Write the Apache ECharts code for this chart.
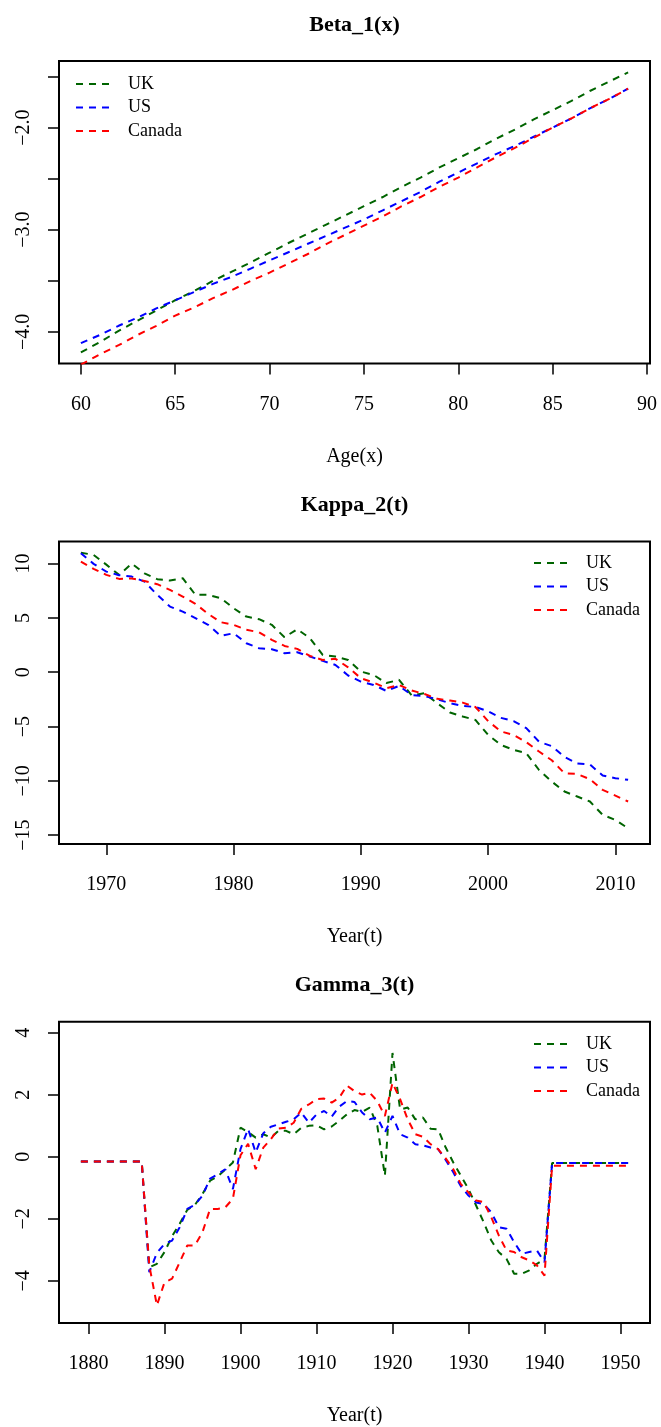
<!DOCTYPE html>
<html>
<head>
<meta charset="utf-8">
<script src="https://cdn.jsdelivr.net/npm/echarts@6/dist/echarts.min.js"></script>
<style>
html,body{margin:0;padding:0;background:#fff;}
#chart{width:661px;height:1427px;}
</style>
</head>
<body>
<div id="chart"></div>
<script>
// ---------- Data ----------
const seriesNames = ['UK', 'US', 'Canada'];
const seriesColors = ['#006400', '#0000FF', '#FF0000'];

// Panel 1: Beta_1(x)
const ages = [60,61,62,63,64,65,66,67,68,69,70,71,72,73,74,75,76,77,78,79,80,81,82,83,84,85,86,87,88,89];
const betaUK = [-4.20,-4.10,-3.99,-3.89,-3.79,-3.69,-3.60,-3.50,-3.41,-3.32,-3.225,-3.13,-3.04,-2.95,-2.86,-2.77,-2.68,-2.58,-2.49,-2.39,-2.30,-2.21,-2.11,-2.02,-1.92,-1.83,-1.74,-1.64,-1.55,-1.46];
const betaUS = [-4.11,-4.03,-3.94,-3.86,-3.77,-3.69,-3.61,-3.53,-3.46,-3.38,-3.30,-3.22,-3.14,-3.06,-2.98,-2.90,-2.81,-2.72,-2.63,-2.53,-2.44,-2.35,-2.26,-2.18,-2.09,-2.00,-1.91,-1.81,-1.72,-1.62];
const betaCA = [-4.32,-4.22,-4.13,-4.03,-3.94,-3.84,-3.76,-3.67,-3.59,-3.50,-3.42,-3.33,-3.24,-3.14,-3.05,-2.96,-2.87,-2.77,-2.68,-2.58,-2.49,-2.39,-2.29,-2.20,-2.10,-2.00,-1.91,-1.81,-1.72,-1.62];
const ageTicks = [60,65,70,75,80,85,90];
const betaTicks = [-4.0,-3.5,-3.0,-2.5,-2.0,-1.5];
const betaLabels = [-4.0,-3.0,-2.0];

// Panel 2: Kappa_2(t)
const kappaYears = [1968,1969,1970,1971,1972,1973,1974,1975,1976,1977,1978,1979,1980,1981,1982,1983,1984,1985,1986,1987,1988,1989,1990,1991,1992,1993,1994,1995,1996,1997,1998,1999,2000,2001,2002,2003,2004,2005,2006,2007,2008,2009,2010,2011];
const kappaUK = [11.0,10.8,9.9,8.96,10.0,9.1,8.56,8.44,8.65,7.12,7.12,6.81,5.89,5.12,4.88,4.36,3.22,3.96,3.13,1.6,1.44,1.13,0.06,-0.25,-1.0,-0.7,-2.15,-1.93,-2.85,-3.71,-4.08,-4.39,-5.77,-6.69,-7.15,-7.45,-9.0,-10.06,-10.98,-11.44,-11.9,-13.13,-13.6,-14.36];
const kappaUS = [10.95,9.97,9.26,8.93,8.8,8.34,7.12,6.04,5.58,4.97,4.36,3.34,3.59,2.67,2.21,2.12,1.75,1.84,1.44,1.04,0.67,-0.3,-0.86,-1.17,-1.72,-1.26,-2.1,-2.2,-2.5,-2.85,-3.1,-3.2,-3.6,-4.2,-4.5,-5.15,-6.4,-6.8,-7.8,-8.4,-8.5,-9.5,-9.75,-9.9];
const kappaCA = [10.18,9.51,8.96,8.59,8.62,8.4,8.1,7.58,6.96,6.29,5.37,4.6,4.36,3.9,3.68,2.98,2.42,2.15,1.5,1.13,1.23,0.45,-0.55,-0.95,-1.47,-1.17,-1.69,-2.0,-2.45,-2.6,-2.8,-3.2,-4.5,-5.45,-5.77,-6.44,-7.3,-8.1,-9.3,-9.36,-9.85,-10.83,-11.35,-11.9];
const kappaXTicks = [1970,1980,1990,2000,2010];
const kappaYTicks = [-15,-10,-5,0,5,10];

// Panel 3: Gamma_3(t)
const gammaYears = [1879,1880,1881,1882,1883,1884,1885,1886,1887,1888,1889,1890,1891,1892,1893,1894,1895,1896,1897,1898,1899,1900,1901,1902,1903,1904,1905,1906,1907,1908,1909,1910,1911,1912,1913,1914,1915,1916,1917,1918,1919,1920,1921,1922,1923,1924,1925,1926,1927,1928,1929,1930,1931,1932,1933,1934,1935,1936,1937,1938,1939,1940,1941,1942,1943,1944,1945,1946,1947,1948,1949,1950,1951];
const gammaUK = [-0.15,-0.15,-0.15,-0.15,-0.15,-0.15,-0.15,-0.15,-0.15,
  -3.56,-3.45,-3.07,-2.56,-2.16,-1.71,-1.55,-1.2,-0.77,-0.63,-0.41,-0.18,
  0.94,0.80,0.62,0.73,0.62,0.84,0.84,0.73,0.94,1.0,1.02,0.89,0.98,1.16,1.37,1.51,1.45,1.59,1.0,-0.61,
  3.35,1.53,1.59,1.21,1.27,0.91,0.89,0.30,-0.18,-0.61,-1.04,-1.57,-2.11,-2.70,-3.08,-3.29,-3.77,-3.77,-3.66,-3.45,-3.3,
  -0.20,-0.20,-0.20,-0.20,-0.20,-0.20,-0.20,-0.20,-0.20,-0.20,-0.20];
const gammaUS = [-0.15,-0.15,-0.15,-0.15,-0.15,-0.15,-0.15,-0.15,-0.15,
  -3.72,-3.1,-2.81,-2.7,-2.27,-1.68,-1.55,-1.25,-0.70,-0.56,-0.40,-1.04,
  0.25,0.90,0.14,0.76,0.97,1.05,1.13,1.21,1.43,1.1,1.37,1.48,1.3,1.62,1.80,1.77,1.43,1.21,1.27,0.78,
  1.32,0.73,0.62,0.41,0.37,0.30,0.25,-0.1,-0.5,-0.95,-1.25,-1.47,-1.52,-1.79,-2.27,-2.32,-2.75,-3.13,-3.07,-3.02,-3.40,
  -0.20,-0.20,-0.20,-0.20,-0.20,-0.20,-0.20,-0.20,-0.20,-0.20,-0.20];
const gammaCA = [-0.15,-0.15,-0.15,-0.15,-0.15,-0.15,-0.15,-0.15,-0.15,
  -3.5,-4.79,-4.05,-3.93,-3.4,-2.86,-2.86,-2.43,-1.68,-1.68,-1.63,-1.35,
  0.05,0.42,-0.40,0.30,0.57,0.91,0.94,1.1,1.55,1.69,1.86,1.88,1.75,1.91,2.30,2.12,2.01,2.07,1.80,1.32,
  2.39,1.86,1.21,0.73,0.65,0.41,0.25,-0.05,-0.4,-0.88,-1.15,-1.41,-1.46,-1.95,-2.54,-3.02,-3.07,-3.24,-3.34,-3.50,-3.83,
  -0.29,-0.29,-0.29,-0.29,-0.29,-0.29,-0.29,-0.29,-0.29,-0.29,-0.29];
const gammaXTicks = [1880,1890,1900,1910,1920,1930,1940,1950];
const gammaYTicks = [-4,-2,0,2,4];

// ---------- Chart ----------
const FONT = 'Liberation Serif';
const minus = s => String(s).replace('-', '\u2212');
const pair = (xs, ys) => xs.map((x, i) => [x, ys[i]]);

const panels = [
  { title:'Beta_1(x)', top:61, xName:'Age(x)', xMin:58.84, xMax:90.16, yMin:-4.309, yMax:-1.349,
    xTicks:ageTicks, yTicks:betaTicks, yLabels:betaLabels, yFmt:v => minus(v.toFixed(1)),
    xs:ages, data:[betaUK, betaUS, betaCA], legendLeft:75, legendTop:75 },
  { title:'Kappa_2(t)', top:541.5, xName:'Year(t)', xMin:1966.28, xMax:2012.72, yMin:-15.81, yMax:12.03,
    xTicks:kappaXTicks, yTicks:kappaYTicks, yLabels:kappaYTicks, yFmt:v => minus(v),
    xs:kappaYears, data:[kappaUK, kappaUS, kappaCA], legendLeft:533, legendTop:554 },
  { title:'Gamma_3(t)', top:1021.7, xName:'Year(t)', xMin:1876.12, xMax:1953.88, yMin:-5.36, yMax:4.36,
    xTicks:gammaXTicks, yTicks:gammaYTicks, yLabels:gammaYTicks, yFmt:v => minus(v),
    xs:gammaYears, data:[gammaUK, gammaUS, gammaCA], legendLeft:533, legendTop:1035 }
];

const GRID_H = 302.5;
const option = {
  animation:false,
  backgroundColor:'#fff',
  title:[], grid:[], xAxis:[], yAxis:[], legend:[], series:[]
};

panels.forEach((p, gi) => {
  option.title.push({
    text:p.title, left:354.5, top:p.top - 47, textAlign:'center', padding:0,
    textStyle:{fontFamily:FONT, fontWeight:'bold', fontSize:22, color:'#000'}
  });
  option.grid.push({
    left:59, right:11, top:p.top, height:GRID_H,
    show:true, borderColor:'#000', borderWidth:2, backgroundColor:'transparent'
  });
  option.xAxis.push({
    type:'value', gridIndex:gi, min:p.xMin, max:p.xMax, position:'bottom',
    axisLine:{show:false, onZero:false}, splitLine:{show:false},
    axisTick:{show:true, inside:false, length:11, customValues:p.xTicks, lineStyle:{color:'#000', width:1.5}},
    axisLabel:{show:true, customValues:p.xTicks, margin:31, fontFamily:FONT, fontSize:20, color:'#000',
      formatter:v => String(v)},
    name:p.xName, nameLocation:'middle', nameGap:83,
    nameTextStyle:{fontFamily:FONT, fontSize:20, color:'#000'}
  });
  option.yAxis.push({
    type:'value', gridIndex:gi, min:p.yMin, max:p.yMax, position:'left',
    axisLine:{show:false, onZero:false}, splitLine:{show:false},
    axisTick:{show:true, inside:false, length:11, customValues:p.yTicks, lineStyle:{color:'#000', width:1.5}},
    axisLabel:{show:true, customValues:p.yLabels, rotate:90, margin:25, fontFamily:FONT, fontSize:20, color:'#000',
      formatter:v => p.yFmt(v)}
  });
  option.legend.push({
    data:seriesNames, orient:'vertical', left:p.legendLeft, top:p.legendTop, padding:0,
    itemWidth:35, itemHeight:14, itemGap:5.5, selectedMode:false,
    itemStyle:{opacity:0},
    textStyle:{fontFamily:FONT, fontSize:18, color:'#000', padding:[0,0,0,12]}
  });
  seriesNames.forEach((name, si) => {
    option.series.push({
      name, type:'line', xAxisIndex:gi, yAxisIndex:gi,
      data:pair(p.xs, p.data[si]),
      symbol:'none', showSymbol:false, clip:true,
      lineStyle:{color:seriesColors[si], width:2, type:[7,6]},
      itemStyle:{color:seriesColors[si]}
    });
  });
});

const chart = echarts.init(document.getElementById('chart'), null, {renderer:'canvas'});
chart.setOption(option);
</script>
</body>
</html>
